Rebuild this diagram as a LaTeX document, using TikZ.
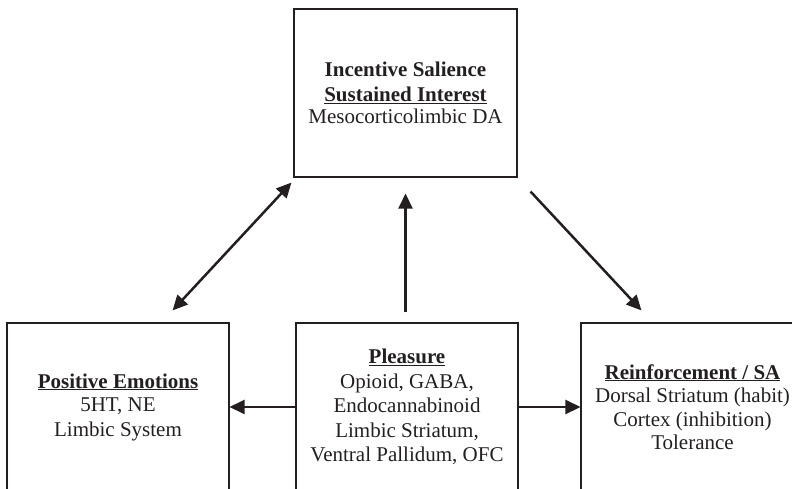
\documentclass[tikz,border=0pt]{standalone}
\usepackage{fontspec}
\setmainfont{Liberation Serif}
\usetikzlibrary{arrows.meta,calc}
\definecolor{ink}{HTML}{231F20}
\tikzset{
  box/.style={draw=ink, line width=1.1pt, minimum width=222pt, minimum height=168pt,
    inner sep=0pt, align=center, text=ink, font=\fontsize{21}{24.5}\selectfont},
  link/.style={draw=ink, line width=2.5pt, -{Triangle[length=15pt,width=14pt]}},
  twoway/.style={link, {Triangle[length=15pt,width=14pt]}-{Triangle[length=15pt,width=14pt]}},
}
\newcommand{\heading}[1]{\underline{\textbf{#1}}}
\begin{document}
\begin{tikzpicture}[x=1pt,y=-1pt]
  \useasboundingbox (0,0) rectangle (792,489);
  \clip (0,0) rectangle (792,489);
  % the four boxes; the lower three run past the bottom edge
  \node[box, minimum width=223pt] (inc) at (405.5,93)
    {\textbf{Incentive Salience}\\ \heading{Sustained Interest}\\[-2pt] Mesocorticolimbic DA};
  \node[box] (pos) at (118,407)
    {\heading{Positive Emotions}\\[-1pt] 5HT, NE\\ Limbic System};
  \node[box] (pleas) at (407,407)
    {\heading{Pleasure}\\ Opioid, GABA,\\ Endocannabinoid\\ Limbic Striatum,\\ Ventral Pallidum, OFC};
  \node[box, minimum width=223pt] (rein) at (692.5,407)
    {\heading{Reinforcement / SA}\\[-1pt] Dorsal Striatum (habit)\\[-1pt] Cortex (inhibition)\\[-1pt] Tolerance};
  % connectors
  \draw[link, shorten <=10pt, shorten >=16pt] (inc.south |- pleas.north) -- (inc.south);
  \draw[link] (pleas.west) -- (pos.east);
  \draw[link] (pleas.east) -- (rein.west);
  \draw[twoway] ($(pos.north east)+(-57,-12)$) -- ($(inc.south west)+(-2,5)$);
  \draw[link] ($(inc.south east)+(13,14)$) -- ($(rein.north west)+(61,-12)$);
\end{tikzpicture}
\end{document}
